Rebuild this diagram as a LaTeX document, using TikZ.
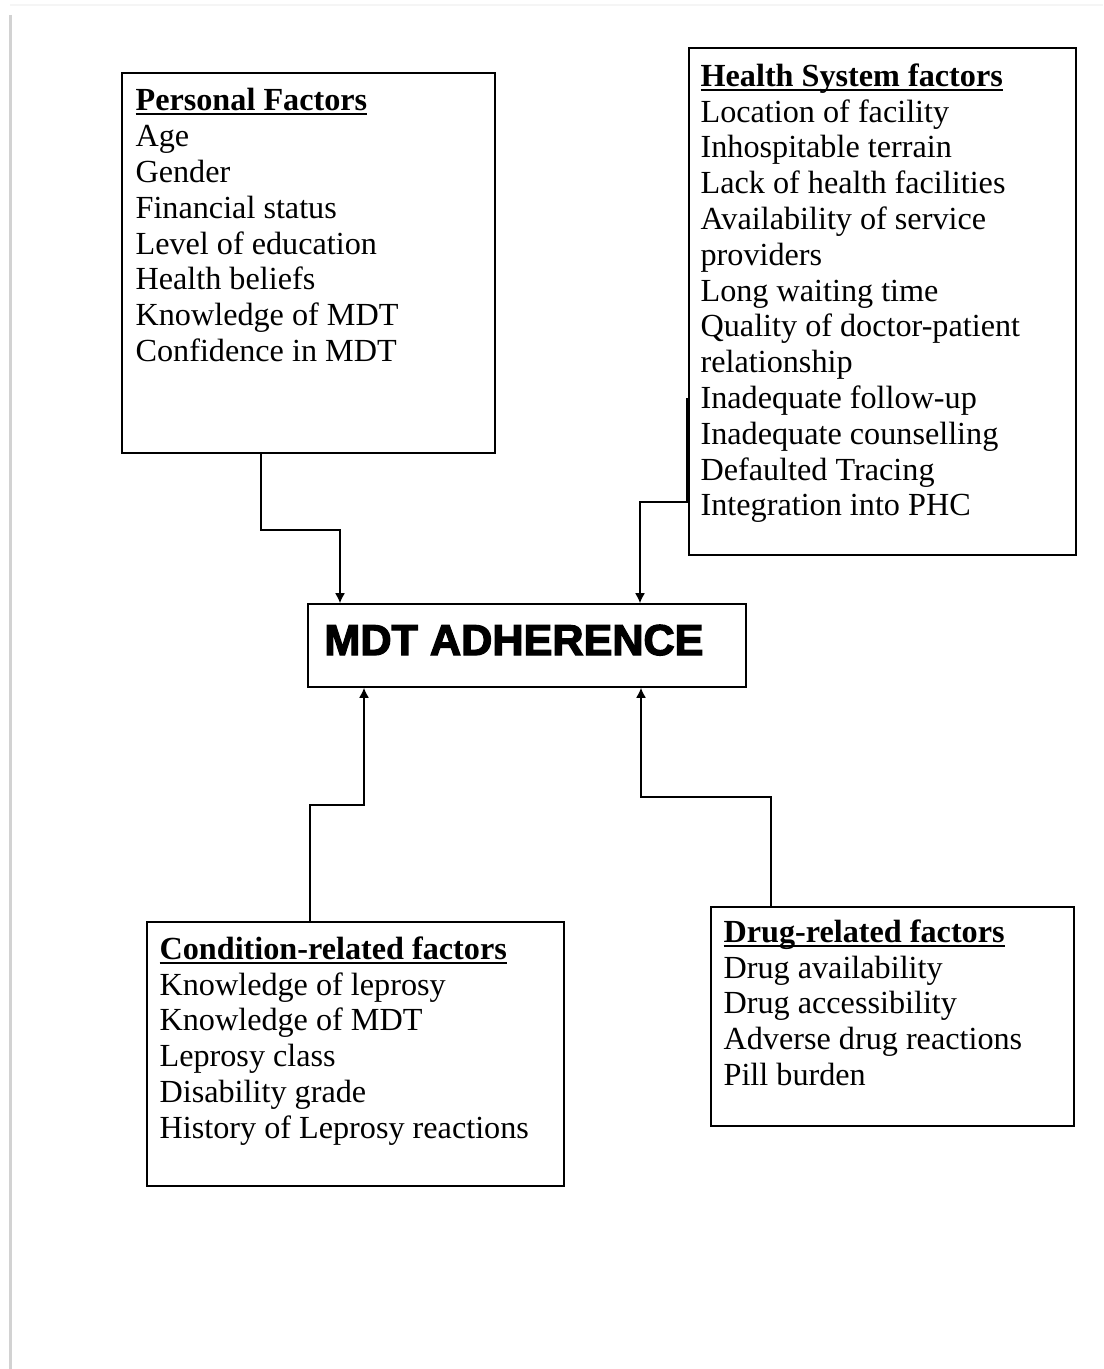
\documentclass[tikz,border=0pt]{standalone}
\usepackage{fontspec}
\setmainfont{Liberation Serif}
\newfontfamily\blk{Liberation Sans Bold}[FakeBold=3]
\newcommand\ultitle[1]{\setbox0\hbox{\textbf{#1}}\rlap{\rule[-2.2pt]{\wd0}{1pt}}\box0}
\usetikzlibrary{arrows.meta,fit}
\tikzset{
  factorbox/.style={draw, line width=0.8pt, inner sep=0pt},
  factortext/.style={anchor=north west, inner sep=0pt, align=left, font=\fontsize{16.1}{17.9}\selectfont},
  arr/.style={line width=0.8pt, -{Latex[length=5pt,width=5pt]}},
}
\begin{document}
\begin{tikzpicture}[x=0.5pt,y=-0.5pt]
\useasboundingbox[fill=white] (0,0) rectangle (1103,1369);
\draw[gray!35, line width=1.5pt] (10,15) -- (10,1369);
\draw[gray!8, line width=1pt] (10,5) -- (1103,5);

\node[factorbox, fit={(122,73) (495,453)}] (pf) {};
\node[factortext] (pft) at ([shift={(14,16)}]pf.north west) {\ultitle{Personal Factors}\\Age\\Gender\\Financial status\\Level of education\\Health beliefs\\Knowledge of MDT\\Confidence in MDT};

\node[factorbox, fit={(689,48) (1076,555)}] (hs) {};
\node[factortext] (hst) at ([shift={(12,16)}]hs.north west) {\ultitle{Health System factors}\\Location of facility\\Inhospitable terrain\\Lack of health facilities\\Availability of service\\providers\\Long waiting time\\Quality of doctor-patient\\relationship\\Inadequate follow-up\\Inadequate counselling\\Defaulted Tracing\\Integration into PHC};

\node[factorbox, fit={(308,604) (746,687)}] (mdt) {};
\node[anchor=base west, inner sep=0pt, font=\blk\fontsize{21.6}{24}\selectfont] (mdtt) at (324,655) {MDT ADHERENCE};

\node[factorbox, fit={(147,922) (564,1186)}] (cr) {};
\node[factortext] (crt) at ([shift={(13,15)}]cr.north west) {\ultitle{Condition-related factors}\\Knowledge of leprosy\\Knowledge of MDT\\Leprosy class\\Disability grade\\History of Leprosy reactions};

\node[factorbox, fit={(711,907) (1074,1126)}] (dr) {};
\node[factortext] (drt) at ([shift={(13,13)}]dr.north west) {\ultitle{Drug-related factors}\\Drug availability\\Drug accessibility\\Adverse drug reactions\\Pill burden};

\draw[arr] (pf.south -| 261,0) |- (340,530) -- (mdt.north -| 340,0);
\draw[arr] ([xshift=-0.5pt]hs.west |- 0,398) -- ([xshift=-0.5pt]hs.west |- 0,502) -| (mdt.north -| 640,0);
\draw[arr] (cr.north -| 310,0) |- (364,805) -- (mdt.south -| 364,0);
\draw[arr] (dr.north -| 771,0) |- (641,797) -- (mdt.south -| 641,0);
\end{tikzpicture}
\end{document}
